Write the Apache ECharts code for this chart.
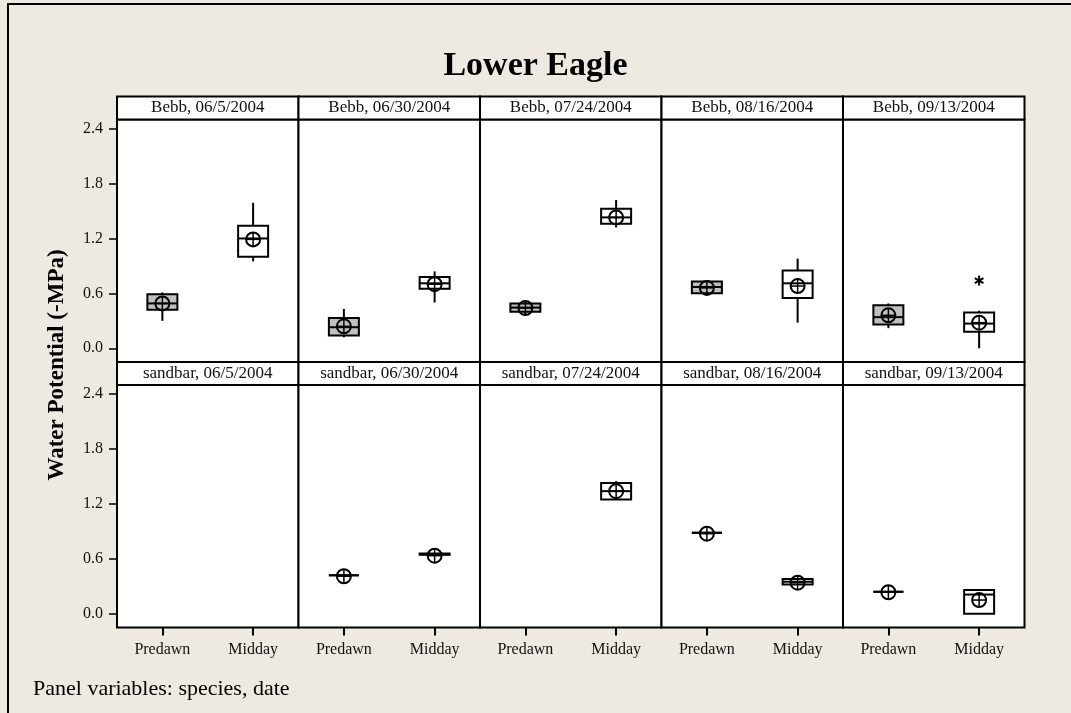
<!DOCTYPE html>
<html>
<head>
<meta charset="utf-8">
<script src="https://cdn.jsdelivr.net/npm/echarts@6/dist/echarts.min.js"></script>
<style>
  html, body { margin: 0; padding: 0; background: #EEEAE1; }
  #chart { width: 1071px; height: 713px; }
</style>
</head>
<body>
<div id="chart"></div>
<script>
const species = ['Bebb', 'sandbar'];
const dates = ['06/5/2004', '06/30/2004', '07/24/2004', '08/16/2004', '09/13/2004'];
const times = ['Predawn', 'Midday'];
const yTicks = [0.0, 0.6, 1.2, 1.8, 2.4];

// box stats per date: [low whisker, Q1, median, Q3, high whisker, mean]
const bebbPredawn = [
  [0.30, 0.42, 0.49, 0.59, 0.61, 0.49],
  [0.12, 0.14, 0.23, 0.33, 0.43, 0.24],
  [0.37, 0.40, 0.445, 0.49, 0.52, 0.44],
  [0.60, 0.60, 0.67, 0.73, 0.74, 0.66],
  [0.22, 0.26, 0.34, 0.47, 0.49, 0.36]
];
const bebbMidday = [
  [0.95, 1.00, 1.20, 1.34, 1.59, 1.19],
  [0.50, 0.65, 0.71, 0.78, 0.84, 0.70],
  [1.32, 1.36, 1.43, 1.525, 1.62, 1.43],
  [0.28, 0.55, 0.71, 0.85, 0.98, 0.68],
  [0.00, 0.18, 0.27, 0.39, 0.41, 0.28]
];
const sandbarPredawn = [
  null,
  [0.42, 0.42, 0.42, 0.42, 0.42, 0.41],
  null,
  [0.885, 0.885, 0.885, 0.885, 0.885, 0.875],
  [0.24, 0.24, 0.24, 0.24, 0.24, 0.235]
];
const sandbarMidday = [
  null,
  [0.645, 0.645, 0.65, 0.66, 0.66, 0.635],
  [1.25, 1.25, 1.34, 1.43, 1.45, 1.34],
  [0.32, 0.32, 0.35, 0.38, 0.38, 0.34],
  [0.00, 0.00, 0.21, 0.26, 0.26, 0.15]
];
const bebbMiddayOutliers = [[], [], [], [], [0.74]];
const sandbarMiddayOutliers = [[], [], [], [], []];

const stats = {
  Bebb: [bebbPredawn, bebbMidday],
  sandbar: [sandbarPredawn, sandbarMidday]
};
const outliers = { Bebb: bebbMiddayOutliers, sandbar: sandbarMiddayOutliers };

// layout
const serif = '"Liberation Serif", "Times New Roman", serif';
const left0 = 117, panelW = 181.5, panelH = 242.5, stripH = 23;
const rowTop = [119.5, 385];

function renderBox(params, api) {
  const ci = api.value(0);
  const lo = api.value(1), q1 = api.value(2), med = api.value(3),
        q3 = api.value(4), hi = api.value(5), mean = api.value(6);
  const x = api.coord([ci, 0])[0];
  const y = v => api.coord([ci, v])[1];
  const hw = 15, r = 7;
  const st = { stroke: '#000', lineWidth: 2, fill: 'none' };
  const ym = y(mean);
  return {
    type: 'group',
    children: [
      { type: 'line', shape: { x1: x, y1: y(lo), x2: x, y2: y(q1) }, style: st },
      { type: 'line', shape: { x1: x, y1: y(q3), x2: x, y2: y(hi) }, style: st },
      { type: 'rect', shape: { x: x - hw, y: y(q3), width: hw * 2, height: y(q1) - y(q3) },
        style: { stroke: '#000', lineWidth: 2, fill: ci === 0 ? '#c0c0c0' : '#ffffff' } },
      { type: 'line', shape: { x1: x - hw, y1: y(med), x2: x + hw, y2: y(med) }, style: st },
      { type: 'circle', shape: { cx: x, cy: ym, r: r }, style: st },
      { type: 'line', shape: { x1: x, y1: ym - r, x2: x, y2: ym + r }, style: { stroke: '#000', lineWidth: 1.5 } },
      { type: 'line', shape: { x1: x - r, y1: ym, x2: x + r, y2: ym }, style: { stroke: '#000', lineWidth: 1.5 } }
    ]
  };
}

function renderStar(params, api) {
  const p = api.coord([api.value(0), api.value(1)]);
  const len = 5, children = [];
  for (let k = 0; k < 3; k++) {
    const a = Math.PI / 2 + k * Math.PI / 3;
    children.push({
      type: 'line',
      shape: { x1: p[0] - len * Math.cos(a), y1: p[1] - len * Math.sin(a),
               x2: p[0] + len * Math.cos(a), y2: p[1] + len * Math.sin(a) },
      style: { stroke: '#000', lineWidth: 2 }
    });
  }
  return { type: 'group', children: children };
}

const grid = [], xAxis = [], yAxis = [], series = [], graphic = [];

graphic.push({
  type: 'rect', silent: true, z: -10,
  shape: { x: 8, y: 4, width: 1200, height: 900 },
  style: { fill: 'none', stroke: '#000', lineWidth: 2 }
});

species.forEach((sp, r) => {
  dates.forEach((d, c) => {
    const g = r * dates.length + c;
    const left = left0 + c * panelW;
    grid.push({
      left: left, top: rowTop[r], width: panelW, height: panelH,
      show: true, backgroundColor: '#fff', borderColor: '#000', borderWidth: 2
    });
    const bottom = r === species.length - 1;
    xAxis.push({
      type: 'category', gridIndex: g, data: times, boundaryGap: true,
      show: bottom, position: 'bottom',
      axisLine: { show: false, onZero: false },
      axisTick: { show: bottom, alignWithLabel: true, length: 8, lineStyle: { color: '#000', width: 2 } },
      axisLabel: { show: bottom, margin: 14, color: '#111', fontFamily: serif, fontSize: 16 },
      splitLine: { show: false }
    });
    yAxis.push({
      type: 'value', gridIndex: g, min: -0.15, max: 2.5,
      show: c === 0,
      axisLine: { show: false, onZero: false },
      axisTick: { show: true, customValues: yTicks, length: 8, lineStyle: { color: '#000', width: 1.5 } },
      axisLabel: { show: true, customValues: yTicks, margin: 14, color: '#111', fontFamily: serif, fontSize: 16,
        formatter: v => v.toFixed(1) },
      splitLine: { show: false }
    });

    const boxData = [];
    stats[sp].forEach((arr, ti) => {
      if (arr[c]) boxData.push([ti].concat(arr[c]));
    });
    series.push({
      type: 'custom', xAxisIndex: g, yAxisIndex: g, renderItem: renderBox,
      data: boxData, clip: false, silent: true
    });
    const outData = outliers[sp][c].map(v => [1, v]);
    if (outData.length) {
      series.push({
        type: 'custom', xAxisIndex: g, yAxisIndex: g, renderItem: renderStar,
        data: outData, clip: false, silent: true
      });
    }

    // strip label
    graphic.push({
      type: 'group', silent: true,
      children: [
        { type: 'rect', shape: { x: left, y: rowTop[r] - stripH, width: panelW, height: stripH },
          style: { fill: '#fff', stroke: '#000', lineWidth: 2 } },
        { type: 'text', x: left + panelW / 2, y: rowTop[r] - stripH / 2,
          style: { text: sp + ', ' + d, fontFamily: serif, fontSize: 17, fill: '#111',
                   align: 'center', verticalAlign: 'middle' } }
      ]
    });
  });
});

graphic.push({
  type: 'text', silent: true, x: 57, y: 365, rotation: Math.PI / 2,
  style: { text: 'Water Potential (-MPa)', fontFamily: serif, fontSize: 23, fontWeight: 'bold',
           fill: '#000', align: 'center', verticalAlign: 'middle' }
});
graphic.push({
  type: 'text', silent: true, x: 33, y: 689,
  style: { text: 'Panel variables: species, date', fontFamily: serif, fontSize: 22,
           fill: '#000', align: 'left', verticalAlign: 'middle' }
});

const chart = echarts.init(document.getElementById('chart'));
chart.setOption({
  backgroundColor: '#EEEAE1',
  animation: false,
  title: {
    text: 'Lower Eagle', left: 'center', top: 44,
    textStyle: { fontFamily: serif, fontSize: 34, fontWeight: 'bold', color: '#000' }
  },
  grid: grid,
  xAxis: xAxis,
  yAxis: yAxis,
  series: series,
  graphic: graphic
});
</script>
</body>
</html>
